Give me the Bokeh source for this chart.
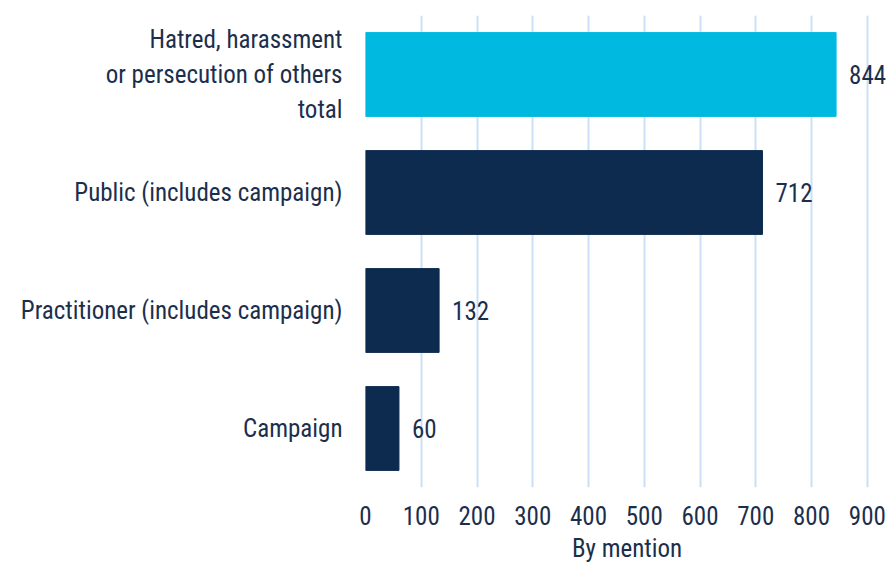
from bokeh.plotting import figure
from bokeh.models import ColumnDataSource, FixedTicker, Range1d
from bokeh.core.properties import value
from bokeh.embed import file_html
from bokeh.resources import INLINE

categories = ["Campaign", "Practitioner (includes campaign)", "Public (includes campaign)",
              "Hatred, harassment\nor persecution of others\ntotal"]
counts = [60, 132, 712, 844]
colors = ["#0C2B4E", "#0C2B4E", "#0C2B4E", "#00B9E0"]
x_ticks = [0, 100, 200, 300, 400, 500, 600, 700, 800, 900]

FONT = "'Roboto Condensed', 'DejaVu Sans Condensed', Roboto"
TXT = "#1B2F4D"
FS = "25px"

src = ColumnDataSource(dict(cat=categories, n=counts, color=colors, lab=[str(v) for v in counts]))

p = figure(y_range=categories, x_range=Range1d(0, 938), width=888, height=565,
           output_backend="svg", toolbar_location=None,
           min_border_left=365, min_border_right=0, min_border_top=15, min_border_bottom=0)
p.hbar(y="cat", right="n", height=0.71, color="color", source=src)
p.text(x="n", y="cat", text="lab", source=src, x_offset=13, text_align="left", text_baseline="middle",
       text_font=value(FONT), text_font_size=FS, text_color=TXT)

p.xaxis.ticker = FixedTicker(ticks=x_ticks)
p.xaxis.axis_label = "By mention"
p.xaxis.axis_line_color = None
p.xaxis.major_tick_line_color = None
p.xaxis.minor_tick_line_color = None
p.xaxis.major_label_text_font = FONT
p.xaxis.major_label_text_font_size = FS
p.xaxis.major_label_text_color = TXT
p.xaxis.major_label_standoff = 12
p.xaxis.axis_label_text_font = FONT
p.xaxis.axis_label_text_font_size = FS
p.xaxis.axis_label_text_font_style = "normal"
p.xaxis.axis_label_text_color = TXT
p.xaxis.axis_label_standoff = 6

p.yaxis.axis_line_color = None
p.yaxis.major_tick_line_color = None
p.yaxis.minor_tick_line_color = None
p.yaxis.major_label_text_font = FONT
p.yaxis.major_label_text_font_size = FS
p.yaxis.major_label_text_color = TXT
p.yaxis.major_label_standoff = 17

p.xgrid.grid_line_color = "#CCE0F5"
p.xgrid.grid_line_width = 2
p.ygrid.grid_line_color = None
p.y_range.range_padding = 0
p.outline_line_color = None
p.background_fill_color = "white"
p.border_fill_color = "white"

open("out.html", "w").write(file_html(p, INLINE))
